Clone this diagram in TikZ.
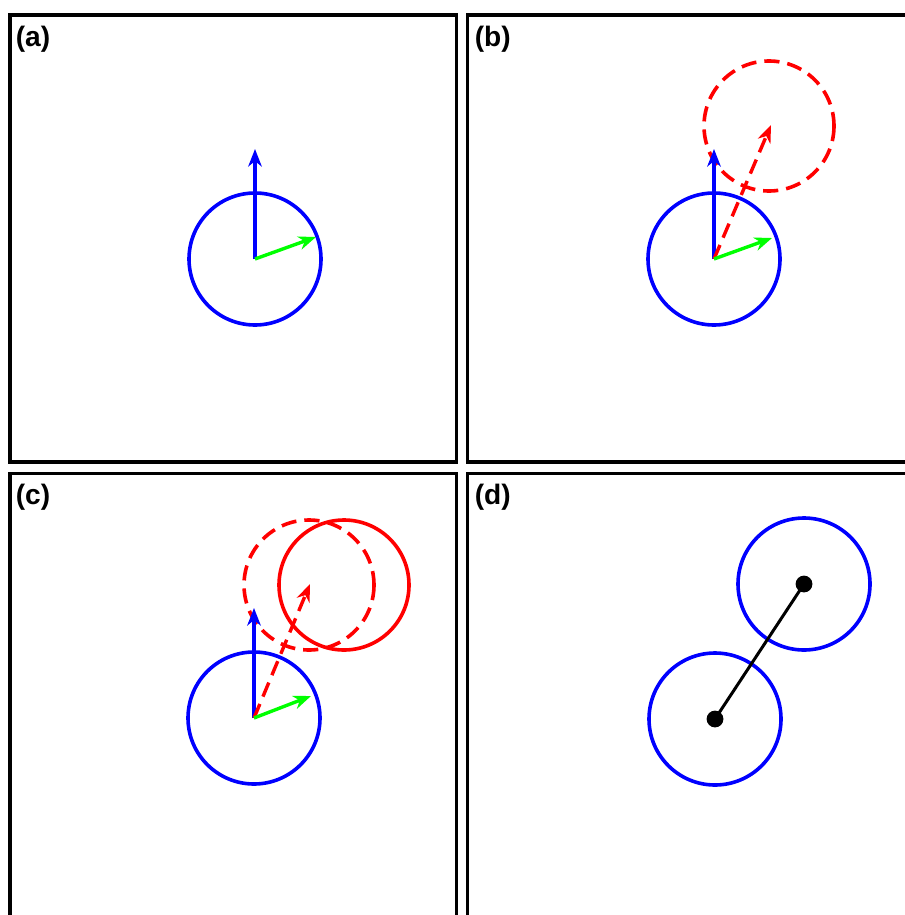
\documentclass[tikz,border=0pt]{standalone}
\usepackage{fontspec}
\setmainfont{Liberation Sans}
\usetikzlibrary{arrows.meta}
\begin{document}
\begin{tikzpicture}[x=0.25mm,y=-0.25mm,
  frame/.style={draw=black,line width=0.85mm},
  lab/.style={anchor=west,inner sep=0pt,font=\fontsize{20}{20}\selectfont\bfseries},
  bcirc/.style={draw=blue,line width=0.9mm},
  rcirc/.style={draw=red,line width=0.9mm},
  rdash/.style={draw=red,line width=0.9mm,dash pattern=on 3.8mm off 2mm},
  arr/.style={line width=0.85mm,-{Stealth[length=4.4mm,width=3.4mm,inset=1.4mm]}},
  dotm/.style={circle,fill=black,inner sep=0pt,minimum size=4.2mm}]
\useasboundingbox (0,0) rectangle (904,915);
% frames
\draw[frame] (10,15) rectangle (456.5,462);
\draw[frame] (467.5,15) rectangle (915,462);
\draw[frame] (10,473.5) rectangle (456.5,925);
\draw[frame] (467.5,473.5) rectangle (915,925);
\node[lab] (la) at (15.5,39) {(a)};
\node[lab] (lb) at (474.5,39) {(b)};
\node[lab] (lc) at (15.5,497) {(c)};
\node[lab] (ld) at (474.5,497) {(d)};
% panel a
\coordinate (a0) at (255,259);
\coordinate (aup) at (255,149);
\coordinate (agr) at (316,237);
\draw[bcirc] (a0) circle (66);
\draw[arr,blue] (a0) -- (aup);
\draw[arr,green] (a0) -- (agr);
% panel b
\coordinate (b0) at (714,259);
\coordinate (bup) at (714,149);
\coordinate (bgr) at (772,238);
\coordinate (bc) at (769,126);
\coordinate (btip) at (771,125);
\draw[bcirc] (b0) circle (66);
\draw[rdash] (bc) circle (65);
\draw[arr,blue] (b0) -- (bup);
\draw[arr,red,dash pattern=on 3.8mm off 2mm] (b0) -- (btip);
\draw[arr,green] (b0) -- (bgr);
% panel c
\coordinate (c0) at (254,718);
\coordinate (cup) at (254,608);
\coordinate (cgr) at (311,696);
\coordinate (cc) at (309,585);
\coordinate (ctip) at (310,584);
\coordinate (cs) at (344,585);
\draw[bcirc] (c0) circle (66);
\draw[rdash] (cc) circle (65);
\draw[rcirc] (cs) circle (65);
\draw[arr,blue] (c0) -- (cup);
\draw[arr,red,dash pattern=on 3.8mm off 2mm] (c0) -- (ctip);
\draw[arr,green] (c0) -- (cgr);
% panel d
\coordinate (d0) at (715,719);
\coordinate (d1) at (804,584);
\draw[bcirc] (d0) circle (66);
\draw[bcirc] (d1) circle (66);
\node[dotm] (p0) at (d0) {};
\node[dotm] (p1) at (d1) {};
\draw[line width=0.75mm] (p0.center) -- (p1.center);
\end{tikzpicture}
\end{document}
